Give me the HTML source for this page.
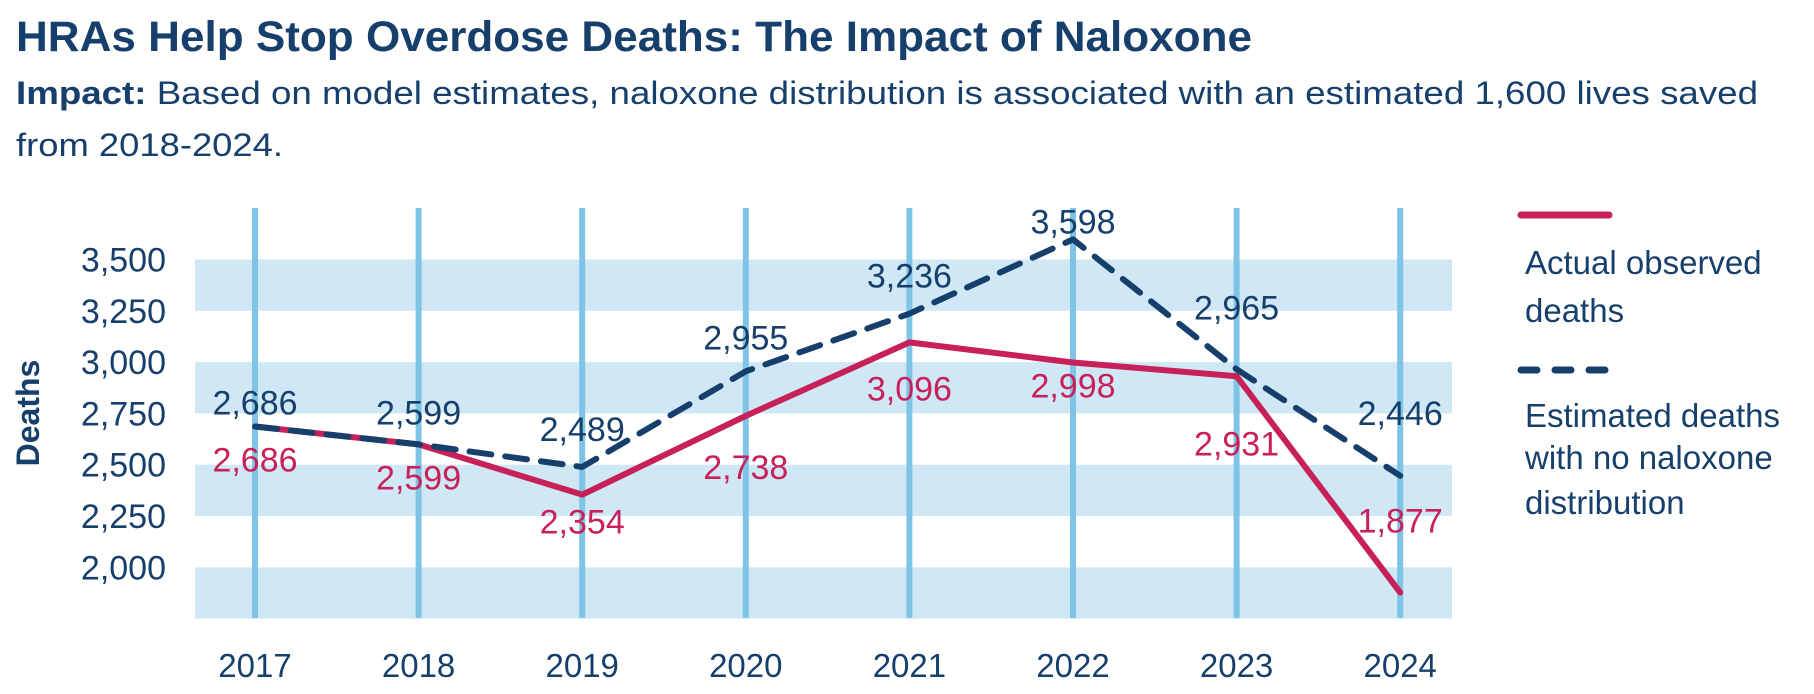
<!DOCTYPE html>
<html><head><meta charset="utf-8"><style>
html,body{margin:0;padding:0;background:#fff;}
svg{display:block;font-family:"Liberation Sans",sans-serif;}
</style></head><body>
<svg id="chart" width="1814" height="694" viewBox="0 0 1814 694">
<text x="16" y="51" font-size="43" font-weight="bold" fill="#163F6B" textLength="1236" lengthAdjust="spacingAndGlyphs">HRAs Help Stop Overdose Deaths: The Impact of Naloxone</text>
<text x="16" y="104" font-size="32" fill="#163F6B" textLength="1742" lengthAdjust="spacingAndGlyphs"><tspan font-weight="bold">Impact:</tspan> Based on model estimates, naloxone distribution is associated with an estimated 1,600 lives saved</text>
<text x="16" y="156" font-size="32" fill="#163F6B" textLength="267" lengthAdjust="spacingAndGlyphs">from 2018-2024.</text>
<g id="bands"></g><g id="vlines"></g><g id="yticks"></g><g id="xticks"></g><g id="series"></g><g id="labels"></g>
<text transform="translate(39,413) rotate(-90)" text-anchor="middle" font-size="32" font-weight="bold" fill="#163F6B">Deaths</text>
<line x1="1521" y1="215" x2="1609" y2="215" stroke="#C8215A" stroke-width="7" stroke-linecap="round"/>
<text font-size="33" fill="#163F6B"><tspan x="1525" y="274">Actual observed</tspan><tspan x="1525" y="322">deaths</tspan></text>
<line x1="1521" y1="370" x2="1609" y2="370" stroke="#163F6B" stroke-width="7" stroke-linecap="round" stroke-dasharray="16 18"/>
<text font-size="33" fill="#163F6B"><tspan x="1525" y="427">Estimated deaths</tspan><tspan x="1525" y="469">with no naloxone</tspan><tspan x="1525" y="514">distribution</tspan></text>
</svg>
<script>
const years = ['2017','2018','2019','2020','2021','2022','2023','2024'];
const actual = [2686,2599,2354,2738,3096,2998,2931,1877];
const estimated = [2686,2599,2489,2955,3236,3598,2965,2446];
const yTicks = [2000,2250,2500,2750,3000,3250,3500];
const estLabelDy = [-24,-32,-38,-34,-38,-18,-62,-63];
const actLabelDy = [33,33,27,51,46,23,67,-72];
const NS='http://www.w3.org/2000/svg';
const x = i => 255 + i*163.6;
const y = v => 259.5 + (3500 - v)*0.2052;
function mk(tag, attrs, parent){const e=document.createElementNS(NS,tag);for(const k in attrs)e.setAttribute(k,attrs[k]);document.getElementById(parent).appendChild(e);return e;}
[[3250,3500],[2750,3000],[2250,2500],[1750,2000]].forEach(b=>{
  const r=mk('rect',{x:195,y:y(b[1]),width:1257,height:y(b[0])-y(b[1]),fill:'#D0E8F5'},'bands');
  
  
});
years.forEach((yr,i)=>{
  const l=mk('line',{x1:x(i),x2:x(i),y1:208,y2:618,stroke:'#7EC4E6','stroke-width':6},'vlines');
  
  
  const t=mk('text',{x:x(i),y:677,'text-anchor':'middle','font-size':33,fill:'#163F6B'},'xticks');
  t.textContent=yr;
  
  
});
yTicks.forEach(v=>{
  const t=mk('text',{x:166,y:y(v)+12,'text-anchor':'end','font-size':34,fill:'#163F6B'},'yticks');
  t.textContent=v.toLocaleString('en-US');
  
  
});
const pts=a=>a.map((v,i)=>x(i)+','+y(v)).join(' ');
const pa=mk('polyline',{points:pts(actual),fill:'none',stroke:'#C8215A','stroke-width':6,'stroke-linejoin':'round','stroke-linecap':'round'},'series');


const pe=mk('polyline',{points:pts(estimated),fill:'none',stroke:'#163F6B','stroke-width':6,'stroke-dasharray':'22 14','stroke-linejoin':'round','stroke-linecap':'round'},'series');


years.forEach((yr,i)=>{
  const a=mk('text',{x:x(i),y:y(estimated[i])+estLabelDy[i]+12,'text-anchor':'middle','font-size':34,fill:'#163F6B'},'labels');
  a.textContent=estimated[i].toLocaleString('en-US');
  
  
  const b=mk('text',{x:x(i),y:y(actual[i])+actLabelDy[i]+12,'text-anchor':'middle','font-size':34,fill:'#C8215A'},'labels');
  b.textContent=actual[i].toLocaleString('en-US');
  
  
});
</script>
</body></html>
